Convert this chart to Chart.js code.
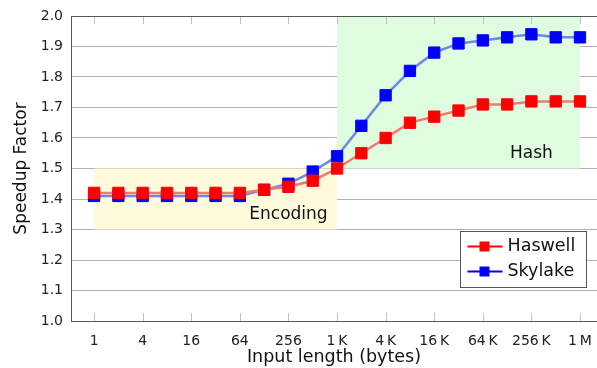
<!DOCTYPE html>
<html>
<head>
<meta charset="utf-8">
<title>Speedup Factor</title>
<script src="https://cdn.jsdelivr.net/npm/chart.js@4/dist/chart.umd.min.js"></script>
<style>
  html, body { margin: 0; padding: 0; background: #fff; }
  #chart { display: block; }
</style>
</head>
<body>
<canvas id="chart" width="597" height="368"></canvas>
<script>
  "use strict";

  // Data
  var inputLengths = [1, 2, 4, 8, 16, 32, 64, 128, 256, 512, 1024, 2048, 4096, 8192,
    16384, 32768, 65536, 131072, 262144, 524288, 1048576];
  var haswell = [1.42, 1.42, 1.42, 1.42, 1.42, 1.42, 1.42, 1.43, 1.44, 1.46, 1.50,
    1.55, 1.60, 1.65, 1.67, 1.69, 1.71, 1.71, 1.72, 1.72, 1.72];
  var skylake = [1.41, 1.41, 1.41, 1.41, 1.41, 1.41, 1.41, 1.43, 1.45, 1.49, 1.54,
    1.64, 1.74, 1.82, 1.88, 1.91, 1.92, 1.93, 1.94, 1.93, 1.93];
  var tickLengths = [1, 4, 16, 64, 256, 1024, 4096, 16384, 65536, 262144, 1048576];
  var tickLabels = ["1", "4", "16", "64", "256", "1\u2009K", "4\u2009K", "16\u2009K", "64\u2009K", "256\u2009K", "1\u2009M"];

  // shaded regions: [from length, to length, y min, y max, label, label length, label y]
  var encodingRegion = [1, 1024, 1.3, 1.5, "Encoding", 256, 1.35];
  var hashRegion = [1024, 1048576, 1.5, 2.0, "Hash", 262144, 1.55];

  var FONT = "'DejaVu Sans', sans-serif";
  Chart.defaults.font.family = FONT;
  Chart.defaults.color = "#222";

  function points(values) {
    return inputLengths.map(function (n, i) {
      return { x: Math.log2(n), y: values[i] };
    });
  }

  // background regions, inner tick marks, labels, legend
  var decorations = {
    id: "decorations",
    beforeDatasetsDraw: function (chart) {
      var ctx = chart.ctx;
      var xs = chart.scales.x, ys = chart.scales.y;
      var area = chart.chartArea;
      ctx.save();
      [[encodingRegion, "#fffadb"], [hashRegion, "#e0fce0"]].forEach(function (r) {
        var reg = r[0];
        var x0 = xs.getPixelForValue(Math.log2(reg[0]));
        var x1 = xs.getPixelForValue(Math.log2(reg[1]));
        var y0 = ys.getPixelForValue(reg[3]);
        var y1 = ys.getPixelForValue(reg[2]);
        ctx.fillStyle = r[1];
        ctx.fillRect(x0, y0, x1 - x0, y1 - y0);
      });

      // ticks inside plot at top and bottom
      ctx.strokeStyle = "#c0c0c0";
      ctx.lineWidth = 1;
      tickLengths.forEach(function (n) {
        var x = Math.round(xs.getPixelForValue(Math.log2(n))) + 0.5;
        ctx.beginPath();
        ctx.moveTo(x, area.top);
        ctx.lineTo(x, area.top + 8);
        ctx.moveTo(x, area.bottom);
        ctx.lineTo(x, area.bottom - 8);
        ctx.stroke();
      });

      // top frame line
      ctx.strokeStyle = "#555";
      ctx.beginPath();
      ctx.moveTo(area.left, Math.round(area.top) + 0.5);
      ctx.lineTo(area.right, Math.round(area.top) + 0.5);
      ctx.stroke();
      ctx.restore();
    },
    afterDatasetsDraw: function (chart) {
      var ctx = chart.ctx;
      var xs = chart.scales.x, ys = chart.scales.y;
      var area = chart.chartArea;
      ctx.save();
      ctx.font = "17px " + FONT;
      ctx.fillStyle = "#111";
      ctx.textAlign = "center";
      ctx.textBaseline = "middle";
      [encodingRegion, hashRegion].forEach(function (reg) {
        ctx.fillText(reg[4], xs.getPixelForValue(Math.log2(reg[5])), ys.getPixelForValue(reg[6]));
      });

      // legend
      var w = 126, h = 56;
      var bx = Math.round(area.right - 11 - w) + 0.5;
      var by = Math.round(area.bottom - 34 - h) + 0.5;
      ctx.fillStyle = "#fff";
      ctx.fillRect(bx, by, w, h);
      ctx.strokeStyle = "#555";
      ctx.lineWidth = 1;
      ctx.strokeRect(bx, by, w, h);
      ctx.textAlign = "left";
      ctx.font = "17.5px " + FONT;
      chart.data.datasets.forEach(function (ds, i) {
        var cy = by + 15 + i * 25;
        ctx.strokeStyle = ds.pointBackgroundColor;
        ctx.lineWidth = 2;
        ctx.beginPath();
        ctx.moveTo(bx + 7, cy);
        ctx.lineTo(bx + 42, cy);
        ctx.stroke();
        ctx.fillStyle = ds.pointBackgroundColor;
        ctx.fillRect(bx + 24 - 5, cy - 5, 10, 10);
        ctx.fillStyle = "#111";
        ctx.fillText(ds.label, bx + 47, cy);
      });
      ctx.restore();
    }
  };

  var ctx = document.getElementById("chart").getContext("2d");
  var myChart = new Chart(ctx, {
    type: "line",
    data: {
      datasets: [
        {
          label: "Haswell",
          data: points(haswell),
          borderColor: "#ee7b6b",
          borderWidth: 2.5,
          pointStyle: "rect",
          pointRadius: 8,
          pointBackgroundColor: "#ff0000",
          pointBorderColor: "#ff0000",
          pointBorderWidth: 1,
          tension: 0,
        },
        {
          label: "Skylake",
          data: points(skylake),
          borderColor: "#6b88e6",
          borderWidth: 2.5,
          pointStyle: "rect",
          pointRadius: 8,
          pointBackgroundColor: "#0000ff",
          pointBorderColor: "#0000ff",
          pointBorderWidth: 1,
          tension: 0,
        },
      ],
    },
    options: {
      responsive: false,
      animation: false,
      layout: { autoPadding: false, padding: { top: 16, left: 0, right: 0, bottom: 0 } },
      plugins: {
        legend: { display: false },
        tooltip: { enabled: false },
      },
      scales: {
        x: {
          type: "linear",
          min: -0.95,
          max: 20.7,
          afterBuildTicks: function (scale) {
            scale.ticks = tickLengths.map(function (n) {
              return { value: Math.log2(n) };
            });
          },
          afterFit: function (scale) {
            scale.height = 47;
            scale.paddingLeft = 0;
            scale.paddingRight = 0;
          },
          ticks: {
            autoSkip: false,
            maxRotation: 0,
            padding: 4,
            font: { size: 14 },
            color: "#222",
            callback: function (v) {
              var i = tickLengths.indexOf(Math.pow(2, v));
              return i >= 0 ? tickLabels[i] : "";
            },
          },
          grid: { display: false },
          border: { display: true, color: "#555", width: 1 },
          title: {
            display: true,
            text: "Input length (bytes)",
            font: { size: 17.5 },
            color: "#111",
            padding: { top: 0, bottom: 0 },
          },
        },
        y: {
          min: 1.0,
          max: 2.0,
          afterFit: function (scale) {
            scale.width = 71;
            scale.paddingTop = 0;
            scale.paddingBottom = 0;
          },
          ticks: {
            stepSize: 0.1,
            padding: 8,
            font: { size: 14 },
            color: "#222",
            callback: function (v) {
              return v.toFixed(1);
            },
          },
          grid: { color: "#b0b0b0", lineWidth: 1, drawTicks: false },
          border: { display: true, color: "#555", width: 1 },
          title: {
            display: true,
            text: "Speedup Factor",
            font: { size: 17 },
            color: "#111",
            padding: { top: 11, bottom: 0 },
          },
        },
      },
    },
    plugins: [decorations],
  });
</script>
</body>
</html>
